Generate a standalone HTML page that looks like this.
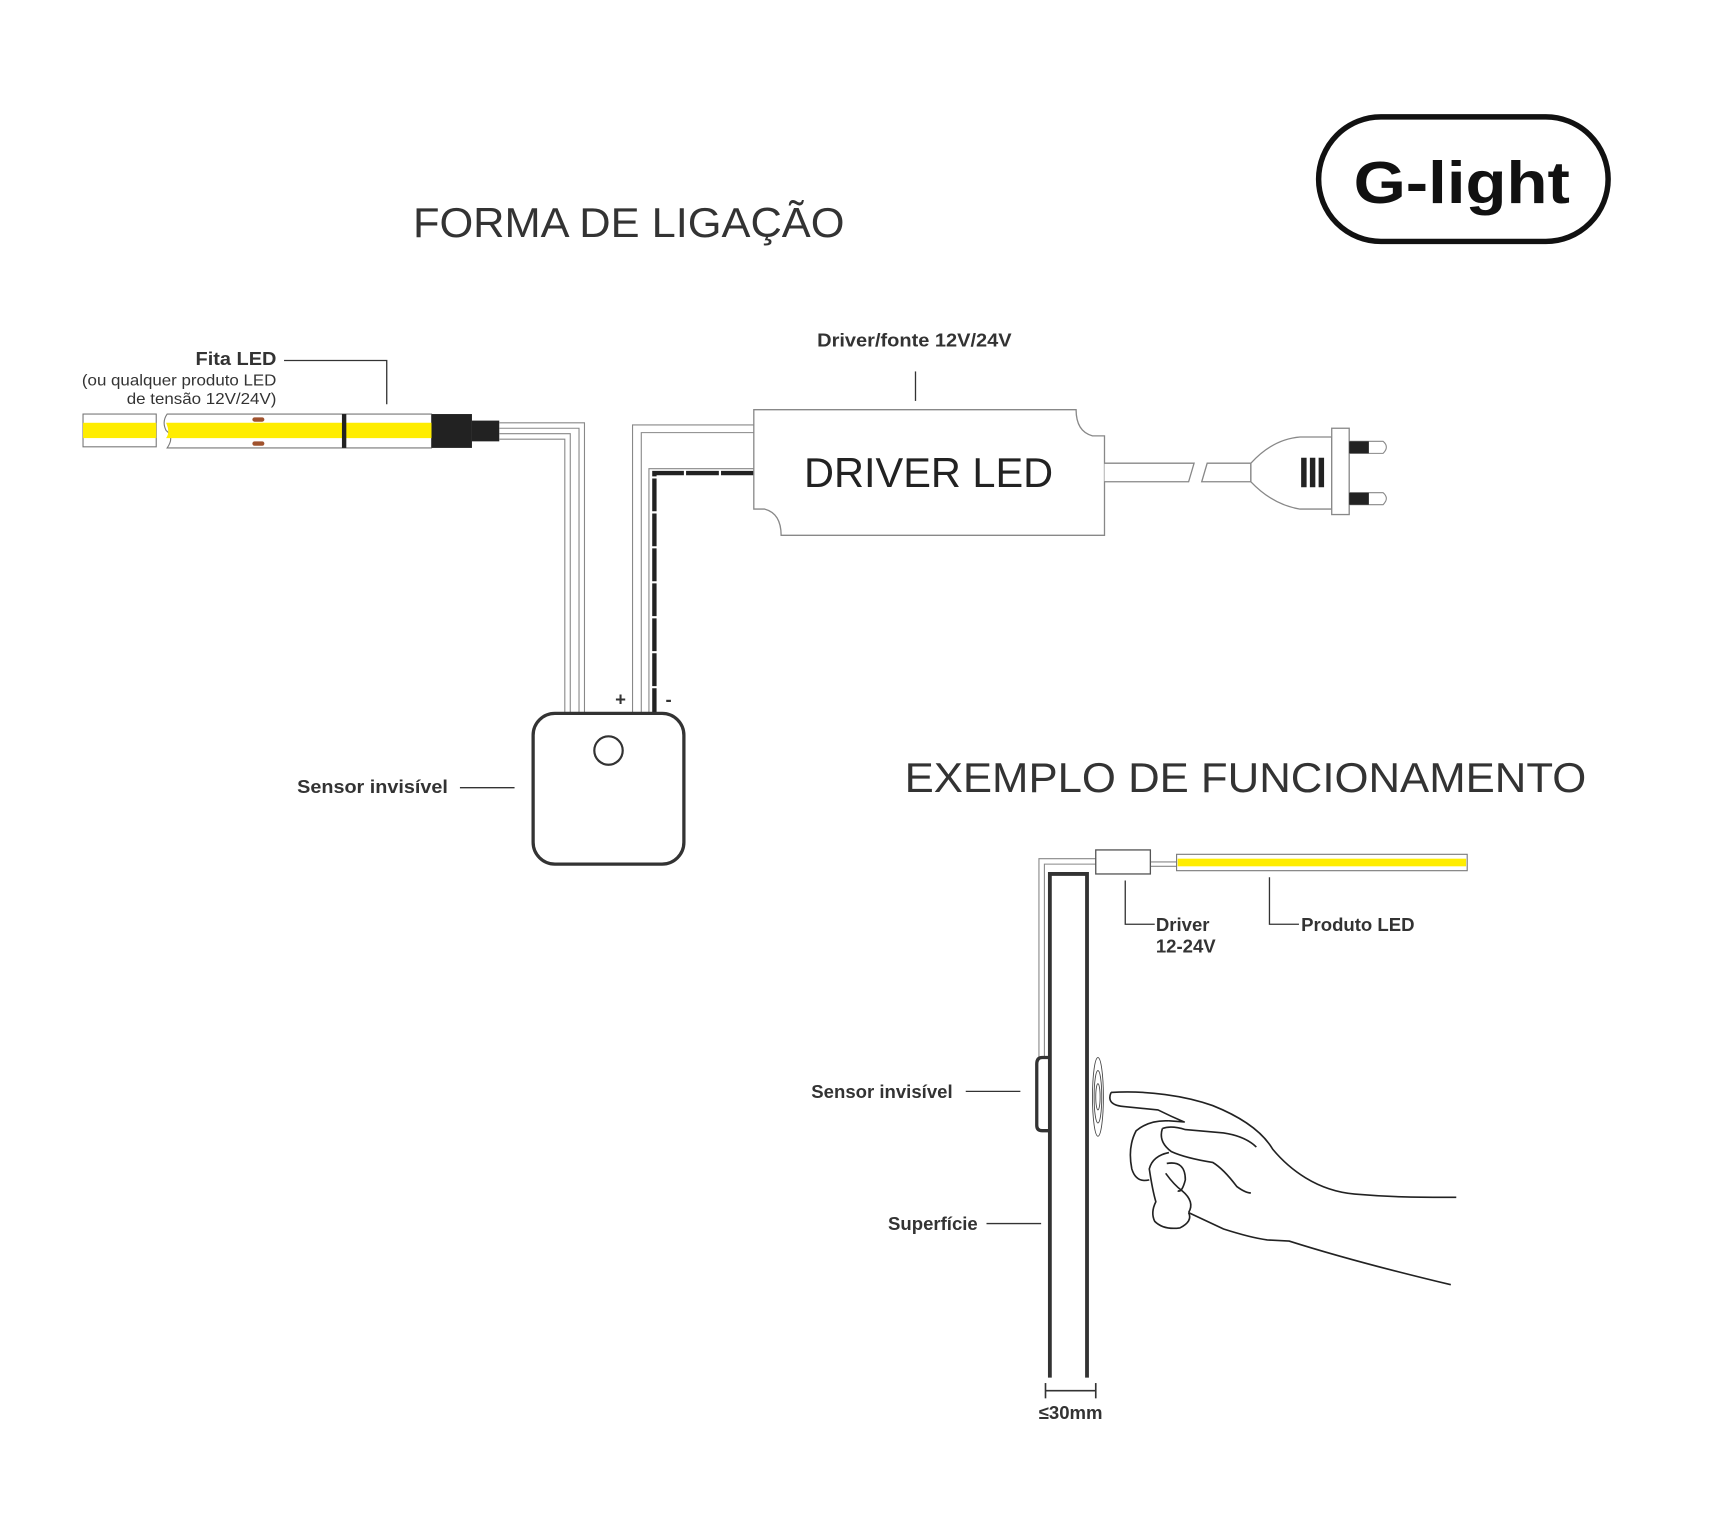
<!DOCTYPE html>
<html><head><meta charset="utf-8"><style>
html,body{margin:0;padding:0;background:#fff;}
svg{display:block}
text{font-family:"Liberation Sans",Arial,sans-serif;fill:#333}
.b{font-weight:bold}
</style></head><body>
<svg width="1713" height="1536" viewBox="0 0 1568 1406" preserveAspectRatio="none" xmlns="http://www.w3.org/2000/svg">
<rect width="1568" height="1406" fill="#fff"/>
<!-- Logo -->
<rect x="1207" y="107" width="265" height="114" rx="57" fill="none" stroke="#111" stroke-width="5"/>
<text x="1338" y="186" text-anchor="middle" class="b" font-size="54" style="fill:#111" textLength="198" lengthAdjust="spacingAndGlyphs">G-light</text>
<!-- Titles -->
<text x="378" y="217" font-size="38" style="fill:#333" textLength="395" lengthAdjust="spacingAndGlyphs">FORMA DE LIGAÇÃO</text>
<text x="828" y="725" font-size="38" style="fill:#333" textLength="624" lengthAdjust="spacingAndGlyphs">EXEMPLO DE FUNCIONAMENTO</text>

<!-- Fita LED label -->
<text x="253" y="334" text-anchor="end" class="b" font-size="17" textLength="74" lengthAdjust="spacingAndGlyphs">Fita LED</text>
<text x="253" y="353" text-anchor="end" font-size="14" textLength="178" lengthAdjust="spacingAndGlyphs">(ou qualquer produto LED</text>
<text x="253" y="370" text-anchor="end" font-size="14" textLength="137" lengthAdjust="spacingAndGlyphs">de tensão 12V/24V)</text>
<polyline points="260,330 354,330 354,370" fill="none" stroke="#333" stroke-width="1.2"/>

<!-- Strip -->
<rect x="76" y="379" width="67" height="30" fill="#fff" stroke="#777" stroke-width="1"/>
<rect x="76" y="387" width="67" height="14" fill="#ffed00"/>
<path d="M153,379 L395,379 L395,410 L153,410 Q160,400 152,394 Q148,386 153,379Z" fill="#fff" stroke="#777" stroke-width="1"/>
<path d="M152,387 L395,387 L395,401 L152,401 Q156,396 152,387Z" fill="#ffed00"/>
<rect x="313" y="379" width="4" height="31" fill="#222"/>
<rect x="231" y="382" width="11" height="4" rx="2" fill="#a0522d"/>
<rect x="231" y="404" width="11" height="4" rx="2" fill="#a0522d"/>
<rect x="395" y="379" width="37" height="31" fill="#222"/>
<rect x="432" y="385" width="25" height="19" fill="#222"/>

<g fill="none" stroke="#888" stroke-width="1">
<polyline points="457,387 535,387 535,652"/>
<polyline points="457,392 530,392 530,652"/>
<polyline points="457,397 522,397 522,652"/>
<polyline points="457,402 517,402 517,652"/>
<polyline points="690,389 579,389 579,652"/>
<polyline points="690,396 587,396 587,652"/>
<polyline points="690,429 594,429 594,652"/>
</g>
<polyline points="690,433 599,433 599,652" fill="none" stroke="#222" stroke-width="4" stroke-dasharray="30,2"/>
<text x="568" y="646" text-anchor="middle" class="b" font-size="17">+</text>
<text x="612" y="646" text-anchor="middle" class="b" font-size="17">-</text>

<!-- Sensor box -->
<rect x="488" y="653" width="138" height="138" rx="20" fill="#fff" stroke="#333" stroke-width="3"/>
<circle cx="557" cy="687" r="13" fill="none" stroke="#333" stroke-width="2"/>
<text x="410" y="726" text-anchor="end" class="b" font-size="17" textLength="138" lengthAdjust="spacingAndGlyphs">Sensor invisível</text>
<line x1="421" y1="721" x2="471" y2="721" stroke="#333" stroke-width="1.2"/>

<!-- Driver -->
<text x="837" y="317" text-anchor="middle" class="b" font-size="17" textLength="178" lengthAdjust="spacingAndGlyphs">Driver/fonte 12V/24V</text>
<line x1="838" y1="340" x2="838" y2="367" stroke="#333" stroke-width="1.2"/>
<path d="M690,375 L985,375 Q985,395 1000,399 L1011,399 L1011,490 L715,490 Q715,470 700,466 L690,466 Z" fill="#fff" stroke="#888" stroke-width="1.2"/>
<text x="850" y="446" text-anchor="middle" font-size="38" style="fill:#222" textLength="228" lengthAdjust="spacingAndGlyphs">DRIVER LED</text>
<path d="M1011,424 L1093,424 L1088,441 L1011,441" fill="#fff" stroke="#888" stroke-width="1.2"/>
<path d="M1105,424 L1145,424 L1145,441 L1100,441 Z" fill="#fff" stroke="#888" stroke-width="1.2"/>
<path d="M1145,424 Q1165,402 1190,400 L1219,400 L1219,466 L1190,466 Q1165,462 1145,441 Z" fill="#fff" stroke="#888" stroke-width="1.2"/>
<rect x="1191" y="419" width="5" height="27" fill="#222"/>
<rect x="1199" y="419" width="5" height="27" fill="#222"/>
<rect x="1207" y="419" width="5" height="27" fill="#222"/>
<rect x="1219" y="392" width="16" height="79" fill="#fff" stroke="#888" stroke-width="1.2"/>
<path d="M1235,404 L1266,404 Q1272,409 1266,415 L1235,415Z" fill="#fff" stroke="#888"/>
<rect x="1235" y="404" width="18" height="11" fill="#222"/>
<path d="M1235,451 L1266,451 Q1272,456 1266,462 L1235,462Z" fill="#fff" stroke="#888"/>
<rect x="1235" y="451" width="18" height="11" fill="#222"/>

<!-- Bottom example -->
<g fill="none" stroke="#888" stroke-width="1">
<polyline points="1003,786 951,786 951,968"/>
<polyline points="1003,791 956,791 956,968"/>
<line x1="1053" y1="789" x2="1077" y2="789"/>
<line x1="1053" y1="793" x2="1077" y2="793"/>
</g>
<rect x="1003" y="778" width="50" height="22" fill="#fff" stroke="#555" stroke-width="1.2"/>
<rect x="1077" y="782" width="266" height="15" fill="#fff" stroke="#777" stroke-width="1"/>
<rect x="1078" y="786" width="264" height="7" fill="#ffed00"/>
<polyline points="961,1261 961,800 995,800 995,1261" fill="none" stroke="#333" stroke-width="3.5"/>
<path d="M961,968 L954,968 Q949,968 949,974 L949,1030 Q949,1035 954,1035 L961,1035" fill="none" stroke="#333" stroke-width="3"/>
<polyline points="1030,806 1030,846 1057,846" fill="none" stroke="#333" stroke-width="1.2"/>
<polyline points="1162,803 1162,846 1189,846" fill="none" stroke="#333" stroke-width="1.2"/>
<text x="1058" y="852" class="b" font-size="17">Driver</text>
<text x="1058" y="872" class="b" font-size="17">12-24V</text>
<text x="1191" y="852" class="b" font-size="17">Produto LED</text>
<text x="872" y="1005" text-anchor="end" class="b" font-size="17">Sensor invisível</text>
<line x1="884" y1="999" x2="934" y2="999" stroke="#333" stroke-width="1.2"/>
<text x="895" y="1126" text-anchor="end" class="b" font-size="17">Superfície</text>
<line x1="903" y1="1120" x2="953" y2="1120" stroke="#333" stroke-width="1.2"/>
<g stroke="#333" stroke-width="1.5" fill="none">
<line x1="957" y1="1266" x2="957" y2="1280"/>
<line x1="1003" y1="1266" x2="1003" y2="1280"/>
<line x1="957" y1="1273" x2="1003" y2="1273"/>
</g>
<text x="980" y="1299" text-anchor="middle" class="b" font-size="17">≤30mm</text>
<g fill="none" stroke="#444" stroke-width="0.8">
<ellipse cx="1005" cy="1004" rx="5" ry="36"/>
<ellipse cx="1005" cy="1004" rx="3.5" ry="24"/>
<ellipse cx="1005" cy="1004" rx="2" ry="12"/>
</g>
<g fill="none" stroke="#222" stroke-width="1.5" stroke-linejoin="round">
<path d="M1017,1000 C1050,998 1085,1003 1110,1012 C1135,1022 1155,1035 1165,1052 C1180,1070 1205,1090 1240,1093 C1275,1096 1300,1096 1333,1096"/>
<path d="M1017,1000 Q1012,1012 1030,1013 L1060,1016 Q1072,1022 1084,1027 L1070,1026"/>
<path d="M1070,1026 Q1052,1025 1040,1035 Q1032,1050 1036,1070 Q1040,1083 1052,1080"/>
<path d="M1064,1033 Q1072,1030 1085,1034 L1120,1037 Q1140,1040 1150,1050"/>
<path d="M1064,1033 Q1060,1045 1072,1054 Q1085,1060 1110,1064 Q1120,1070 1132,1086 Q1140,1092 1145,1092"/>
<path d="M1070,1055 Q1055,1058 1052,1070 Q1055,1090 1058,1100 Q1053,1110 1057,1118 Q1065,1126 1080,1124 Q1092,1118 1088,1110"/>
<path d="M1068,1065 Q1085,1062 1085,1080 Q1082,1092 1078,1090"/>
<path d="M1067,1074 Q1075,1085 1082,1090 Q1094,1100 1088,1110"/>
<path d="M1088,1110 L1120,1125 Q1145,1133 1160,1135 L1180,1136 Q1240,1155 1328,1176"/>
</g>
</svg>
</body></html>
